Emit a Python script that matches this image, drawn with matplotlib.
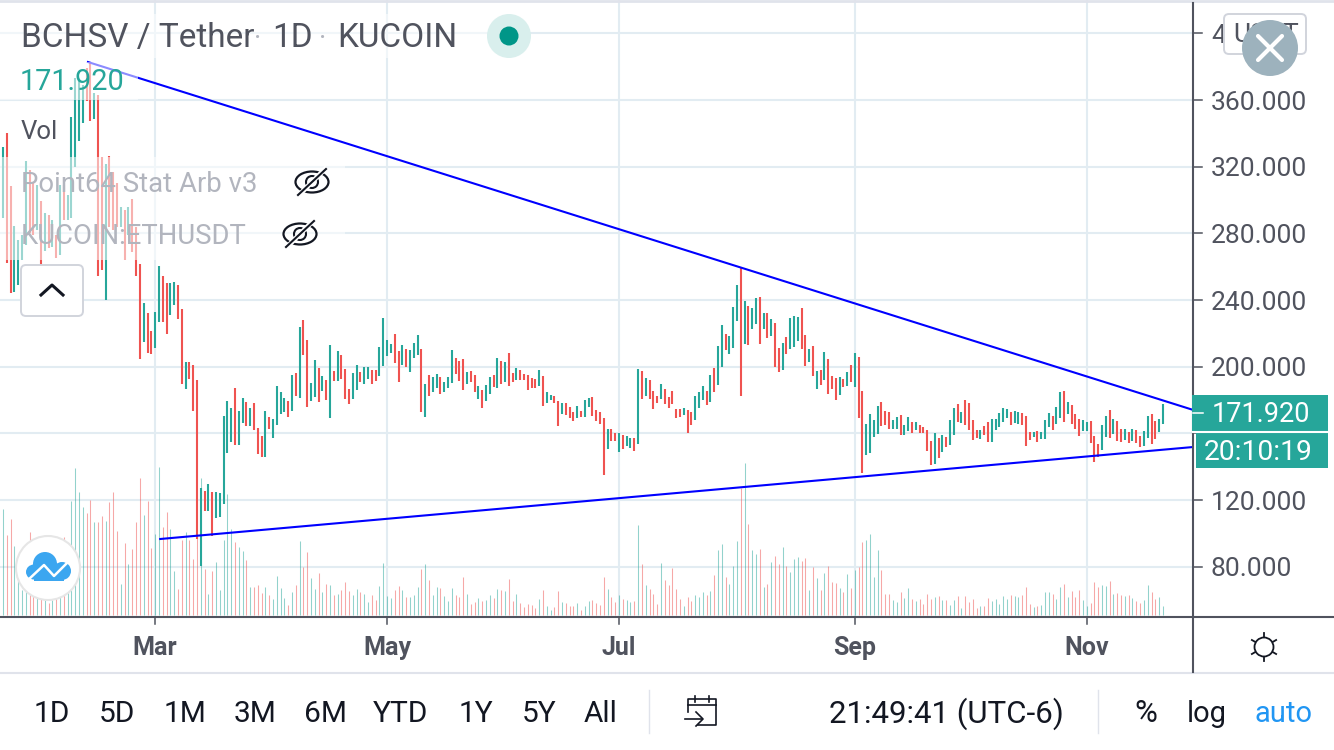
"""
BCHSV / Tether daily chart with converging trend lines
"""

import numpy as np
import pandas as pd
import matplotlib.pyplot as plt
from matplotlib.patches import Circle, Ellipse, FancyBboxPatch, Rectangle

plt.rcParams['font.family'] = ['Roboto', 'DejaVu Sans']

# Daily bars, first one is 21 Jan 2020
first_day = '2020-01-21'

bar_high = [
    331.8, 340.2, 308.4, 284.4, 276, 279, 323.4, 318, 310.8, 309,
    299.4, 292.2, 291, 288, 279, 309, 309, 303, 349.8, 373.2,
    372, 369, 379.2, 382.2, 364.2, 363, 325.8, 321.6, 326.4, 316.8,
    310.2, 295.8, 294, 295.8, 300.6, 283.8, 261.6, 238.2, 232.2, 221.4,
    232.8, 260.4, 254.4, 250.2, 250.2, 250.8, 249, 234.6, 202.8, 202.8,
    201, 192, 127.2, 125.4, 129.6, 124.8, 124.8, 124.2, 170.4, 179.4,
    175.2, 187.2, 173.4, 181.2, 178.8, 175.2, 178.2, 163.2, 158.4, 173.4,
    169.8, 168.6, 188.4, 184.8, 181.2, 179.4, 195, 196.2, 223.8, 228,
    216, 190.2, 204, 199.2, 194.4, 192, 213, 197.4, 209.4,
    207, 198.6, 186.6, 196.2, 201, 196.8, 199.8, 199.8, 198, 198,
    211.8, 229.2, 216, 213.6, 219.6, 209.4, 213, 210.6, 210, 214.2,
    219, 210.6, 189.6, 195, 193.8, 195.6, 193.8, 190.8, 193.8, 210,
    205.2, 203.4, 204.6, 196.8, 197.4, 195, 188.4, 186, 189, 193.8,
    195, 205.2, 203.4, 202.8, 208.2, 196.2, 199.2, 198, 195.6, 195,
    193.2, 192.6, 198, 194.4, 184.8, 183, 182.4, 179.4, 178.2, 178.2,
    175.8, 172.8, 176.4, 173.4, 180, 181.2, 181.8, 174, 172.8, 169.2,
    162.6, 162.6, 160.2, 160.2, 159, 158.4, 157.2, 157.2, 198.6, 197.4,
    193.2, 192, 185.4, 182.4, 189.6, 186.6, 181.8, 185.4, 174.6, 174.6,
    175.2, 174, 172.8, 182.4, 184.8, 188.4, 185.4, 195, 199.2, 212.4,
    225, 219.6, 218.4, 235.8, 249, 259.2, 239.4, 236.4, 235.2, 241.2,
    241.8, 232.2, 232.2, 228.6, 226.2, 211.2, 214.2, 217.8, 229.2, 230.4,
    229.8, 235.2, 219, 210.6, 212.4, 197.4, 198, 208.8, 204.6, 194.4,
    193.2, 193.8, 192.6, 196.8, 201, 208.2, 205.8, 185.4, 165.6, 171.6,
    168, 176.4, 178.8, 173.4, 172.8, 168, 169.8, 171, 165, 169.8,
    166.8, 166.8, 165, 163.8, 162, 155.4, 160.2, 157.2,
    159, 157.8, 168, 175.2, 177.6, 172.8, 180, 178.2, 168, 162,
    162, 164.4, 166.8, 168.6, 168.6, 172.2, 175.2, 174.6, 172.8, 173.4,
    172.8, 172.2, 170.4, 160.8, 160.8, 161.4, 160.8, 168, 172.2, 170.4,
    175.8, 184.8, 185.4, 178.8, 177, 171.6, 168.6, 168, 166.8, 167.4,
    158.4, 153.6, 165, 170.4, 174, 168.6, 167.4, 162.6, 162.6, 160.8,
    162.6, 162, 158.4, 161.4, 170.4, 171.6, 167.4, 168.6, 177.6,
]
bar_low = [
    289.2, 262.2, 244.2, 244.8, 249, 264, 273, 280.2, 279, 282,
    259.8, 269.4, 271.2, 271.8, 265.2, 267, 288, 288, 289.2, 319.8,
    335.4, 346.2, 359.4, 347.4, 348.6, 254.4, 258, 240, 283.8, 282,
    283.8, 283.8, 264, 279, 268.8, 254.4, 204.6, 214.8, 208.2, 207.6,
    211.2, 226.8, 226.8, 219.6, 231, 237, 228.6, 189.6, 186.6, 192.6,
    173.4, 96.6, 80.4, 113.4, 113.4, 98.4, 109.2, 109.8, 117.6, 148.2,
    154.8, 153, 153, 166.2, 164.4, 164.4, 162, 147.6, 145.8, 145.8,
    162.6, 157.2, 165, 171.6, 172.8, 169.8, 173.4, 182.4, 181.2, 207,
    175.8, 179.4, 181.8, 178.8, 185.4, 180, 169.2, 191.4, 191.4,
    192.6, 180.6, 177.6, 180.6, 186, 190.8, 189.6, 192.6, 189.6, 191.4,
    194.4, 200.4, 206.4, 208.2, 202.2, 190.8, 201, 199.8, 196.8, 205.2,
    207, 172.8, 169.8, 182.4, 184.8, 187.2, 183.6, 184.8, 187.2, 190.2,
    195.6, 191.4, 186, 189.6, 190.8, 184.8, 180.6, 175.2, 179.4, 183.6,
    187.8, 187.2, 189.6, 190.8, 188.4, 190.8, 192, 192, 192, 186,
    187.2, 187.2, 188.4, 176.4, 178.2, 180, 178.2, 164.4, 171.6, 171,
    169.2, 167.4, 169.2, 169.8, 169.8, 175.8, 170.4, 167.4, 165.6, 135,
    150.6, 155.4, 155.4, 148.8, 150.6, 152.4, 151.2, 149.4, 153.6, 180.6,
    182.4, 180.6, 174.6, 178.2, 180.6, 177.6, 175.2, 177.6, 169.2, 169.8,
    171, 160.2, 165, 168, 175.2, 180, 177, 178.8, 184.8, 189,
    199.8, 210, 207.6, 211.2, 227.4, 182.4, 213.6, 213, 222.6, 225.6,
    213.6, 222.6, 217.2, 218.4, 199.8, 196.8, 198, 207.6, 210.6, 211.8,
    215.4, 210.6, 200.4, 202.8, 194.4, 186.6, 189, 192, 183.6, 186.6,
    180, 183, 187.8, 188.4, 190.8, 187.8, 169.2, 136.2, 147, 148.2,
    157.8, 159.6, 164.4, 165, 162.6, 162.6, 162.6, 159, 159, 161.4,
    160.2, 162, 160.2, 160.2, 149.4, 141, 141.6, 145.2,
    148.8, 151.8, 153, 159, 166.8, 166.2, 165, 162, 156, 157.2,
    156.6, 159, 154.8, 154.8, 162, 163.8, 166.8, 169.2, 165, 166.2,
    165.6, 165, 152.4, 156, 157.8, 154.8, 156.6, 156.6, 163.8, 162,
    165.6, 169.2, 166.8, 171.6, 165.6, 162.6, 158.4, 161.4, 161.4, 154.2,
    142.8, 145.8, 150, 157.8, 157.2, 159.6, 155.4, 154.8, 156, 154.2,
    155.4, 154.2, 151.8, 152.4, 157.2, 153.6, 156.6, 160.8, 165.6,
]
# G closes above open, R below
bar_side = (
    'GRRGGGGRRG' 'RGRGRGRGGG' 'GGRRGRRGRR' 'RGRGRRRGRR' 'GGRRGGRRGR'
    'RRGRGRGGGG' 'GRGGRGRRRG' 'RGGGGRGRGR' 'RGGRGRGRG'
    'RRRGGRGGRR' 'GGGGRRGRGG' 'GRGRGGRGGG' 'RRRGRRGRGG' 'RGRGRRGRRR'
    'RRGRGGRRGR' 'RRGRGGRRRR' 'GRRGRGGRGR' 'GRRRGRRRRR'
    'GRRGGGRGRG' 'GRGGGRGRGG' 'RGRGRRGRGG' 'GRRGRGRGRR' 'RGRGRGRRGG'
    'GGRRRGGRGG' 'RGRRRRGR'
    'GRGGRGRRRR' 'GRRGGGGGRG' 'GRRRGRGGGR' 'GGRGRRRGGR' 'RRGGRGRRGR'
    'GRRGGRRGG'
)
# Volume, no scale on the chart so relative units
volume = [
    106, 80, 96, 69, 36, 25, 68, 83, 30, 22, 22, 15, 12, 15, 20, 62, 78, 47, 114, 147,
    123, 108, 102, 115, 93, 93, 99, 94, 113, 123, 84, 31, 72, 51, 66, 93, 137, 100, 114, 67,
    81, 148, 88, 103, 86, 44, 26, 75, 83, 75, 56, 80, 137, 46, 21, 44, 53, 25, 75, 121,
    86, 73, 68, 64, 55, 28, 28, 30, 22, 28, 20, 16, 39, 27, 17, 10, 23, 30, 74, 48,
    63, 37, 26, 42, 23, 31, 30, 20, 21,
    25, 33, 24, 20, 26, 23, 21, 13, 20, 15, 29, 52, 19, 17, 25, 29, 25, 18, 18, 20,
    28, 46, 51, 35, 20, 28, 27, 19, 14, 27, 20, 18, 38, 21, 11, 13, 17, 14, 15, 20,
    17, 26, 25, 24, 36, 14, 21, 12, 8, 11, 10, 7, 16, 25, 9, 5, 8, 24, 13, 12,
    9, 9, 12, 5, 9, 14, 15, 12, 10, 38, 26, 18, 13, 20, 16, 15, 13, 14, 90, 51,
    30, 26, 21, 11, 52, 35, 30, 47, 26,
    16, 9, 18, 14, 20, 18, 23, 20, 24, 40, 65, 71, 38, 31, 49, 74, 127, 152, 91, 65,
    61, 66, 28, 31, 53, 59, 51, 68, 49, 43, 56, 58, 54, 57, 25, 48, 37, 25, 42, 49,
    33, 32, 27, 23, 41, 27, 45, 48, 73, 75, 81, 38, 65, 45, 21, 21, 15, 13, 23, 17,
    27, 16, 14, 16, 11, 21, 16, 18, 19,
    15, 15, 10, 15, 19, 7, 19, 13, 16, 7, 9, 9, 17, 14, 16, 11, 19, 16, 20, 19,
    18, 20, 28, 11, 8, 9, 10, 23, 23, 21, 16, 28, 31, 18, 24, 18, 25, 15, 9, 12,
    33, 28, 30, 29, 34, 21, 22, 20, 19, 20, 17, 14, 12, 15, 30, 23, 16, 18, 9,
]

price_ticks = [80, 120, 160, 200, 240, 280, 320, 360, 400]
month_labels = ['Mar', 'May', 'Jul', 'Sep', 'Nov']
month_starts = ['2020-03-01', '2020-05-01', '2020-07-01', '2020-09-01', '2020-11-01']

# Drawn trend lines (date, price)
upper_line_days = ['2020-02-12 08:00', '2020-11-29']
upper_line_prices = [382.8, 174.0]
lower_line_days = ['2020-03-02 08:00', '2020-11-29']
lower_line_prices = [96.6, 151.8]

last_price = '171.920'
countdown = '20:10:19'
range_buttons = ['1D', '5D', '1M', '3M', '6M', 'YTD', '1Y', '5Y', 'All']
range_button_x = [52, 117, 185, 255, 325, 401, 476, 539, 601]

GREEN = '#26a69a'
RED = '#ef5350'
GRID = '#e2ecf2'
AXIS = '#50535e'
BORDER = '#e0e3eb'
BLUE_LINE = '#0000ff'

W, H = 1334, 750
PLOT_W, PLOT_H = 1193, 617

start = pd.Timestamp(first_day)


def day_index(dates):
    return np.array([(pd.Timestamp(d) - start) / pd.Timedelta(days=1) for d in dates])


fig = plt.figure(figsize=(W / 100, H / 100), dpi=100, facecolor='white')
plot_rect = [0, 1 - PLOT_H / H, PLOT_W / W, PLOT_H / H]

# Volume sits behind the price bars
ax_vol = fig.add_axes(plot_rect, zorder=1)
days = np.arange(len(bar_high))
px_per_day = 3.803
x_lim = (-3 / px_per_day, (PLOT_W - 3) / px_per_day)
side = np.array(list(bar_side))
colors = np.where(side == 'G', GREEN, RED)

ax_vol.set_xlim(x_lim)
ax_vol.set_ylim(-2, PLOT_H - 2)
ax_vol.axis('off')

ax = fig.add_axes(plot_rect, zorder=2)
ax.set_xlim(x_lim)
ax.set_ylim(420 - 0.6 * PLOT_H, 420)
ax.patch.set_alpha(0)
for s in ax.spines.values():
    s.set_visible(False)
ax.set_xticks([])
ax.set_yticks([])

# grid goes on the volume axes so it stays underneath everything
for p in price_ticks:
    y = (420 - p) / 0.6
    ax_vol.plot(x_lim, [PLOT_H - 2 - y] * 2, color=GRID, lw=1.5, zorder=0)
for d in day_index(month_starts):
    ax_vol.plot([d, d], [-2, PLOT_H], color=GRID, lw=1.5, zorder=0)

ax_vol.vlines(days, 0, volume, colors=colors, lw=0.75, alpha=0.5, zorder=1)
ax.vlines(days, bar_low, bar_high, colors=colors, lw=1.5, zorder=2)
ax.plot(day_index(upper_line_days), upper_line_prices, color=BLUE_LINE, lw=1.5, zorder=3)
ax.plot(day_index(lower_line_days), lower_line_prices, color=BLUE_LINE, lw=1.5, zorder=3)

# Everything else is screen furniture, in pixel coords
ui = fig.add_axes([0, 0, 1, 1], zorder=3)
ui.set_xlim(0, W)
ui.set_ylim(H, 0)
ui.axis('off')
ui.patch.set_alpha(0)

# legend rows wash out what is behind them
ui.add_patch(Rectangle((0, 62), 138, 38, fc='white', alpha=0.55, lw=0))
ui.add_patch(Rectangle((0, 157), 345, 103, fc='white', alpha=0.55, lw=0))
ui.add_patch(Rectangle((0, 14), 530, 44, fc='white', alpha=0.55, lw=0))

ui.plot([0, W], [1, 1], color=BORDER, lw=2)
ui.plot([0, W], [672.5, 672.5], color=BORDER, lw=1.5)
ui.plot([0, W], [617, 617], color=AXIS, lw=1.5)
ui.plot([PLOT_W, PLOT_W], [3, 672], color=AXIS, lw=1.5)

for p in price_ticks:
    y = (420 - p) / 0.6
    ui.plot([PLOT_W, PLOT_W + 9], [y, y], color=AXIS, lw=1.1)
    ui.text(1211, y + 2.5, f'{p}.000', color=AXIS, fontsize=19, va='center', ha='left', zorder=3)

for label, d in zip(month_labels, day_index(month_starts)):
    x = (d + 3 / px_per_day) * px_per_day
    ui.plot([x, x], [617, 624], color=AXIS, lw=1.1)
    ui.text(x, 648, label, color=AXIS, fontsize=18, fontweight='bold', ha='center', va='center')

# price and countdown tags cover the 160 label
ui.add_patch(Rectangle((1192, 395), 136, 36, fc=GREEN, lw=0, zorder=5))
ui.add_patch(Rectangle((1196, 433), 132, 35, fc=GREEN, lw=0, zorder=5))
ui.plot([1193, 1328], [432, 432], color='white', lw=1.5, zorder=6)
ui.plot([1193, 1203], [413, 413], color='white', lw=1.1, zorder=6)
ui.text(1261, 414, last_price, color='white', fontsize=19.5, ha='center', va='center', zorder=6)
ui.text(1258, 452, countdown, color='white', fontsize=20.3, ha='center', va='center', zorder=6)

# title block
ui.text(21, 38, 'BCHSV / Tether', color=AXIS, fontsize=24, va='center')
ui.text(258, 39, '·', color='#b2b5be', fontsize=20, va='center', ha='center')
ui.text(272, 38, '1D', color=AXIS, fontsize=24, va='center')
ui.text(323, 39, '·', color='#b2b5be', fontsize=20, va='center', ha='center')
ui.text(337, 38, 'KUCOIN', color=AXIS, fontsize=24, va='center')
ui.add_patch(Circle((509, 36), 22, fc='#d9efed', lw=0))
ui.add_patch(Circle((509, 36), 9.5, fc='#009688', lw=0))
ui.text(20, 82, last_price, color=GREEN, fontsize=20.8, va='center')
ui.text(21, 132, 'Vol', color=AXIS, fontsize=18.5, va='center')
ui.text(21, 184, 'Point64 Stat Arb v3', color='#b2b5be', fontsize=19.8, va='center')
ui.text(21, 236, 'KUCOIN:ETHUSDT', color='#b2b5be', fontsize=19.8, va='center')


def eye_off(cx, cy):
    ui.add_patch(Ellipse((cx, cy), 33, 21, fc='none', ec='#131722', lw=1.6))
    ui.add_patch(Circle((cx, cy), 6, fc='none', ec='#131722', lw=1.5))
    ui.plot([cx - 13, cx + 13], [cy + 13, cy - 13], color='white', lw=3.5)
    ui.plot([cx - 14, cx + 14], [cy + 13, cy - 13], color='#131722', lw=1.5)


eye_off(312, 182)
eye_off(300, 234)

# collapse button
ui.add_patch(FancyBboxPatch((24, 268), 56, 45, boxstyle='round,pad=3,rounding_size=5',
                            fc='white', ec='#d1d4dc', lw=1.4))
ui.plot([41, 52, 63], [295, 285, 295], color='#131722', lw=2.2)

# logo
ui.add_patch(Circle((48, 568), 32, fc='white', ec='#e6e6e6', lw=1.5))
ui.add_patch(Ellipse((45, 564), 24, 24, fc='#3ba6f0', lw=0))
ui.add_patch(Ellipse((62, 571), 18, 18, fc='#3ba6f0', lw=0))
ui.add_patch(Ellipse((34, 572), 16, 15, fc='#3ba6f0', lw=0))
ui.add_patch(Rectangle((34, 568), 30, 13, fc='#3ba6f0', lw=0))
ui.plot([28, 44, 54, 70], [580, 565, 576, 560], color='white', lw=1.8)

# currency button with the close button over it
ui.add_patch(FancyBboxPatch((1227, 17), 76, 34, boxstyle='round,pad=3,rounding_size=5',
                            fc='white', ec='#d1d4dc', lw=1.4, zorder=5))
ui.text(1233, 35, 'USDT', color=AXIS, fontsize=19, va='center', zorder=6)
ui.add_patch(Circle((1270, 48), 28, fc='#9db2bd', lw=0, zorder=7))
ui.plot([1258, 1282], [36, 60], color='white', lw=3, solid_capstyle='round', zorder=8)
ui.plot([1258, 1282], [60, 36], color='white', lw=3, solid_capstyle='round', zorder=8)

# settings gear
ui.add_patch(Circle((1264, 647), 9.5, fc='none', ec='#131722', lw=1.3))
for a in np.deg2rad([0, 60, 120, 180, 240, 300]):
    dx, dy = np.sin(a), -np.cos(a)
    ui.plot([1264 + 10 * dx, 1264 + 14 * dx], [647 + 10 * dy, 647 + 14 * dy], color='#131722', lw=1.3)

# bottom toolbar
for label, x in zip(range_buttons, range_button_x):
    ui.text(x, 714, label, color='#131722', fontsize=21.5, ha='center', va='center')
ui.plot([649, 649], [690, 733], color=BORDER, lw=1)
ui.plot([1098, 1098], [690, 733], color=BORDER, lw=1)
ui.text(946, 714, '21:49:41 (UTC-6)', color='#131722', fontsize=22.5, ha='center', va='center')
ui.text(1146, 714, '%', color='#131722', fontsize=22.5, ha='center', va='center')
ui.text(1207, 714, 'log', color='#131722', fontsize=21, ha='center', va='center')
ui.text(1283, 714, 'auto', color='#2196f3', fontsize=21, ha='center', va='center')

# calendar icon
ui.plot([688, 688, 716, 716, 698], [712, 699, 699, 725, 725], color='#131722', lw=1.2)
ui.plot([688, 716], [705, 705], color='#131722', lw=1.2)
ui.plot([695, 695], [696, 702], color='#131722', lw=1.2)
ui.plot([709, 709], [696, 702], color='#131722', lw=1.2)
ui.plot([685, 702], [719, 719], color='#131722', lw=1.2)
ui.plot([696, 703, 696], [712, 719, 726], color='#131722', lw=1.2)

fig.savefig('out.png', dpi=100)
